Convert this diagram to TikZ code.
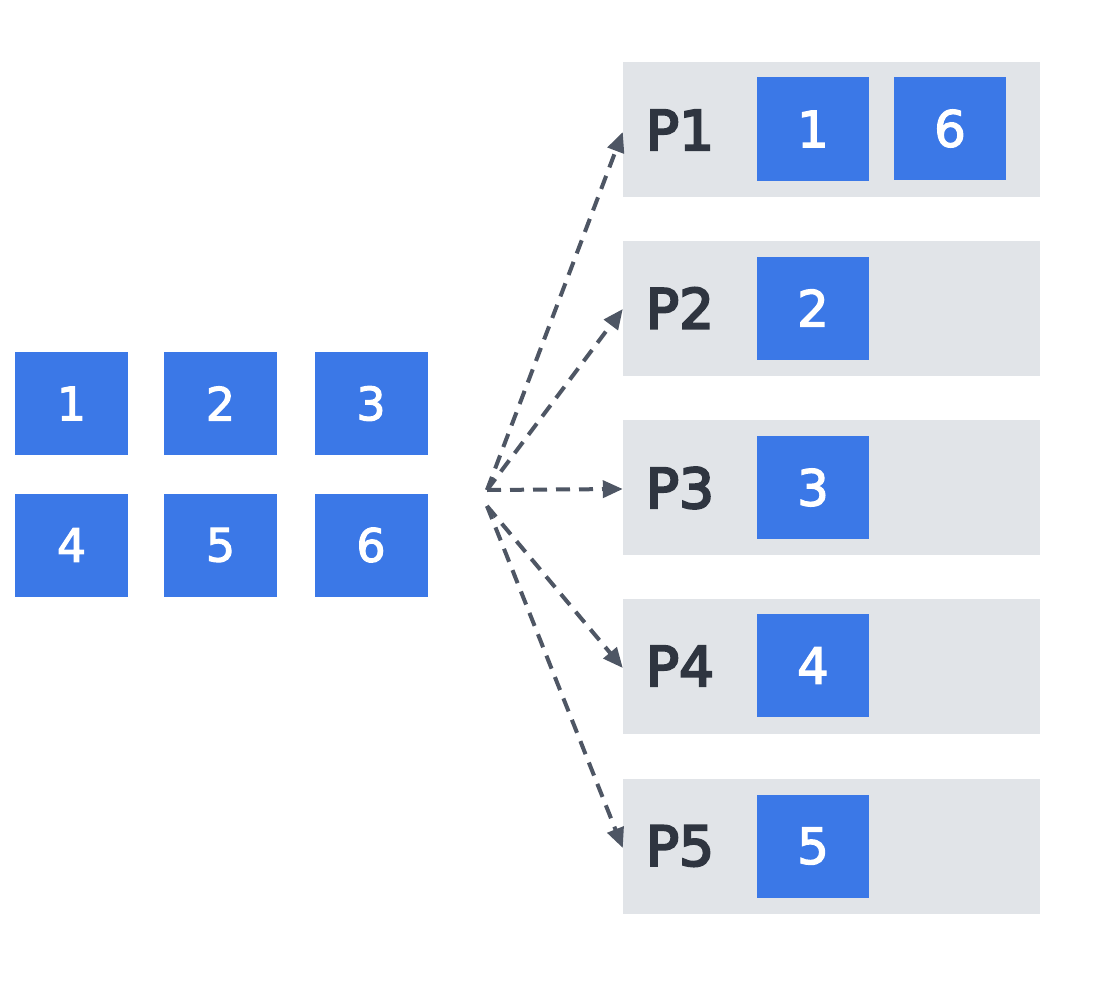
\documentclass[tikz,border=0pt]{standalone}
\usepackage{fontspec}
\setmainfont{DejaVu Sans}
\newfontfamily\plab[FakeBold=4]{DejaVu Sans}
\newfontfamily\nlab[FakeBold=2.5]{DejaVu Sans}
\usetikzlibrary{arrows.meta}
\definecolor{blu}{RGB}{59,120,231}
\definecolor{pgray}{RGB}{225,228,232}
\definecolor{ink}{RGB}{47,53,64}
\definecolor{arr}{RGB}{78,86,100}
\tikzset{
  sq/.style={fill=blu, draw=none, minimum width=113pt, minimum height=103pt, inner sep=0pt, text=white, font=\nlab\fontsize{46}{50}\selectfont},
  bx/.style={fill=blu, draw=none, minimum width=112pt, minimum height=103pt, inner sep=0pt, text=white, font=\nlab\fontsize{50}{54}\selectfont},
  panel/.style={fill=pgray, draw=none, minimum width=417pt, minimum height=135pt, inner sep=0pt},
  plabel/.style={text=ink, inner sep=0pt, font=\plab\fontsize{55}{60}\selectfont},
  dasharr/.style={draw=arr, line width=4pt, dash pattern=on 14pt off 9pt, -{Triangle[length=20pt,width=17pt]}}
}
\begin{document}
\begin{tikzpicture}[x=1pt,y=-1pt]
\useasboundingbox (0,0) rectangle (1098,998);
\fill[white] (0,0) rectangle (1098,998);
% left squares
\node[sq] (s1) at (71.5,403.5) {1};
\node[sq] (s2) at (220.5,403.5) {2};
\node[sq] (s3) at (371,403.5) {3};
\node[sq] (s4) at (71.5,545) {4};
\node[sq] (s5) at (220.5,545) {5};
\node[sq] (s6) at (371,545) {6};
% panels
\node[panel] (p1) at (831.5,129.5) {};
\node[panel] (p2) at (831.5,308) {};
\node[panel] (p3) at (831.5,487.5) {};
\node[panel] (p4) at (831.5,666.5) {};
\node[panel] (p5) at (831.5,846) {};
% labels
\node[plabel] (l1) at (680,130) {P1};
\node[plabel] (l2) at (680,308) {P2};
\node[plabel] (l3) at (680,488) {P3};
\node[plabel] (l4) at (680,666) {P4};
\node[plabel] (l5) at (680,846) {P5};
% inner boxes
\node[bx] (b11) at (813,129) {1};
\node[bx] (b16) at (950,128.5) {6};
\node[bx] (b2) at (813,308) {2};
\node[bx] (b3) at (813,487.5) {3};
\node[bx] (b4) at (813,665.5) {4};
\node[bx] (b5) at (813,846) {5};
% arrows
\coordinate (o1) at (487,490);
\coordinate (o2) at (487,506);
\draw[dasharr] (o1) -- (p1.west |- 0,132);
\draw[dasharr] (o1) -- (p2.west |- 0,309);
\draw[dasharr] (o1) -- (p3.west |- 0,489);
\draw[dasharr] (o2) -- (p4.west |- 0,668);
\draw[dasharr] (o2) -- (p5.west |- 0,848);
\end{tikzpicture}
\end{document}
